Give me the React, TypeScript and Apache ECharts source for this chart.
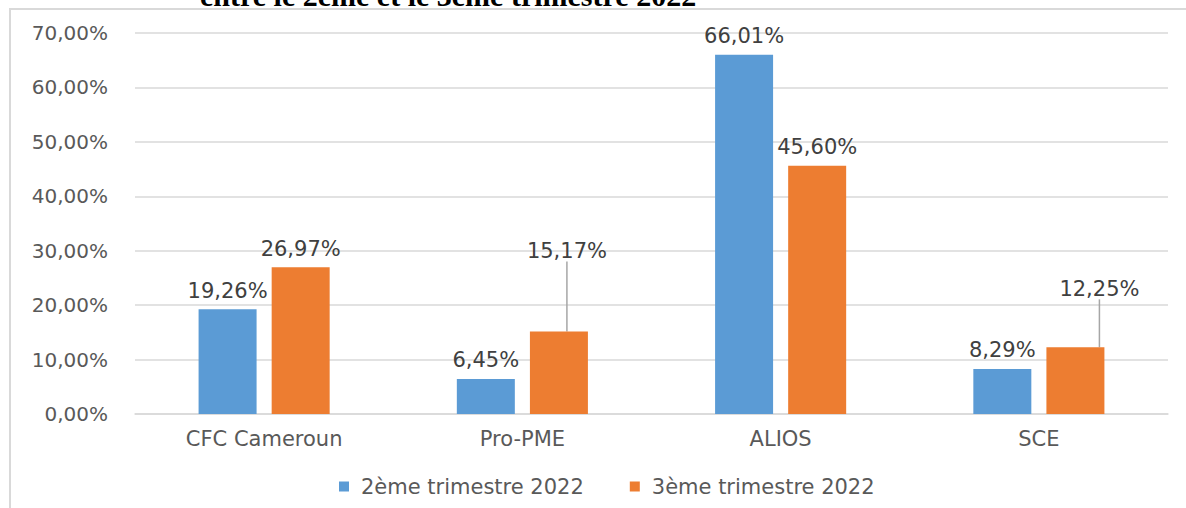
import React, { useEffect, useRef } from "react";
import * as echarts from "echarts";

const categories = ["CFC Cameroun", "Pro-PME", "ALIOS", "SCE"];
const seriesNames = ["2ème trimestre 2022", "3ème trimestre 2022"];
const q2Values = [19.26, 6.45, 66.01, 8.29];
const q3Values = [26.97, 15.17, 45.6, 12.25];
const movedLabels = [1, 3];
const titleText = "entre le 2ème et le 3ème trimestre 2022";

const fmt = (v: number) => v.toFixed(2).replace(".", ",") + "%";

export default function App() {
  const ref = useRef<HTMLDivElement>(null);
  useEffect(() => {
    document.body.style.margin = "0";
    const chart = echarts.init(ref.current!, null, { renderer: "svg" });
    const font = "'DejaVu Sans', 'Noto Sans', sans-serif";
    const labelCommon = {
      show: true,
      position: "top" as const,
      distance: 8,
      color: "#404040",
      fontSize: 21,
      fontFamily: font,
      formatter: (p: any) => fmt(p.value),
    };
    chart.setOption({
      animation: false,
      backgroundColor: "#ffffff",
      graphic: [
        {
          type: "rect",
          shape: { x: 10, y: 9, width: 1300, height: 700 },
          style: { fill: "none", stroke: "#d9d9d9", lineWidth: 2 },
          silent: true,
        },
        {
          type: "text",
          x: 200,
          y: 10,
          style: {
            text: titleText,
            font: "bold 30px 'Liberation Serif', serif",
            fill: "#000000",
            verticalAlign: "bottom",
          },
          silent: true,
        },
      ],
      grid: { left: 135, right: 18, top: 33, bottom: 94 },
      legend: {
        data: seriesNames,
        left: 334,
        top: 471,
        itemWidth: 10,
        itemHeight: 10,
        itemGap: 46,
        icon: "rect",
        textStyle: { color: "#595959", fontSize: 21, fontFamily: font, padding: [0, 0, 0, 7] },
      },
      xAxis: {
        type: "category",
        data: categories,
        axisLine: { lineStyle: { color: "#d9d9d9", width: 1.5 } },
        axisTick: { show: false },
        axisLabel: { color: "#595959", fontSize: 21, fontFamily: font, margin: 14 },
      },
      yAxis: {
        type: "value",
        min: 0,
        max: 70,
        interval: 10,
        axisLine: { show: false },
        axisTick: { show: false },
        splitLine: { lineStyle: { color: "#d9d9d9", width: 1.5 } },
        axisLabel: {
          color: "#595959",
          fontSize: 20,
          fontFamily: font,
          margin: 27,
          formatter: (v: number) => fmt(v),
        },
      },
      series: [
        {
          name: seriesNames[0],
          type: "bar",
          data: q2Values,
          barWidth: 58,
          barGap: "26%",
          itemStyle: { color: "#5b9bd5" },
          label: labelCommon,
        },
        {
          name: seriesNames[1],
          type: "bar",
          data: q3Values.map((v, i) =>
            movedLabels.includes(i)
              ? { value: v, labelLine: { show: true, lineStyle: { color: "#a6a6a6", width: 1.5 } } }
              : { value: v }
          ),
          barWidth: 58,
          barGap: "26%",
          itemStyle: { color: "#ed7d31" },
          label: labelCommon,
          labelLayout: (p: any) => {
            if (p.dataIndex === 1) return { dx: 8, dy: -62 };
            if (p.dataIndex === 3) return { dx: 24, dy: -40 };
            return {};
          },
        },
      ],
    });
    return () => chart.dispose();
  }, []);
  return <div ref={ref} style={{ width: 1186, height: 508 }} />;
}
